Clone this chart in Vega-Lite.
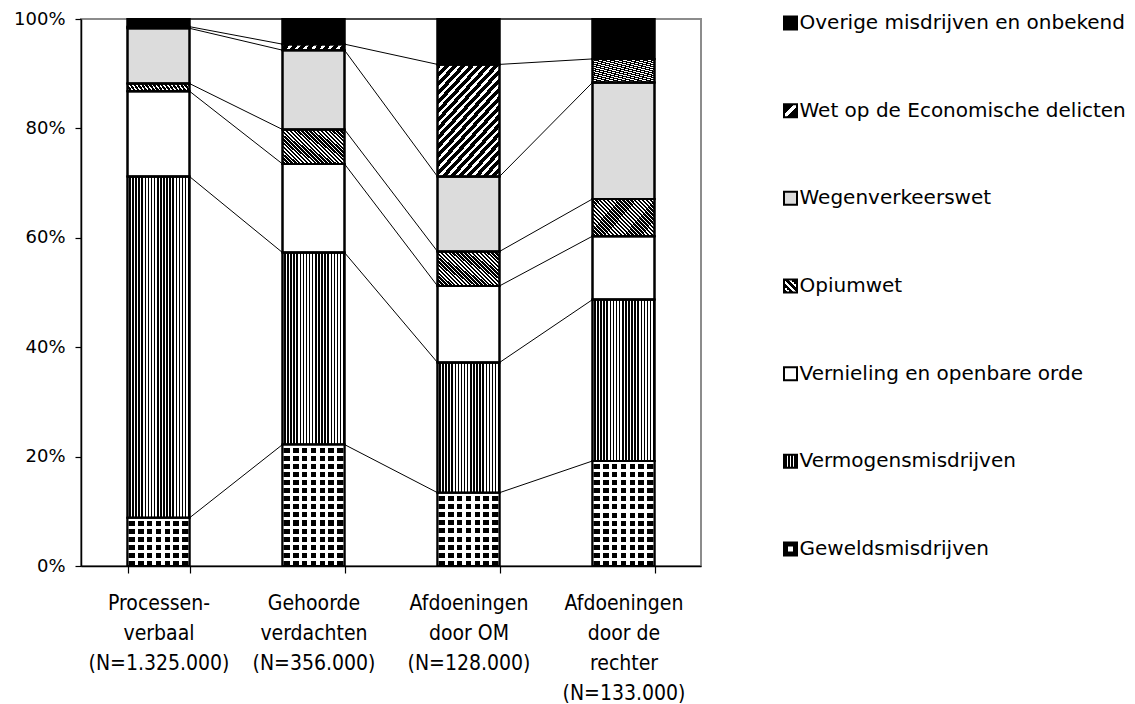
{
  "$schema": "https://vega.github.io/schema/vega-lite/v6.json",
  "padding": {"left": 12, "top": 9, "right": 2, "bottom": 2},
  "background": "white",
  "spacing": 78,
  "config": {
    "view": {"stroke": "#8c8c8c", "strokeWidth": 2},
    "axis": {"labelColor": "black", "domainColor": "black", "tickColor": "black", "domainWidth": 1.5, "tickWidth": 1.2, "grid": false, "title": null}
  },
  "data": {"values": [
    {"cat": "Processen-|verbaal|(N=1.325.000)", "type": "Geweldsmisdrijven", "pct": 8.8},
    {"cat": "Processen-|verbaal|(N=1.325.000)", "type": "Vermogensmisdrijven", "pct": 62.4},
    {"cat": "Processen-|verbaal|(N=1.325.000)", "type": "Vernieling en openbare orde", "pct": 15.6},
    {"cat": "Processen-|verbaal|(N=1.325.000)", "type": "Opiumwet", "pct": 1.4},
    {"cat": "Processen-|verbaal|(N=1.325.000)", "type": "Wegenverkeerswet", "pct": 10.1},
    {"cat": "Processen-|verbaal|(N=1.325.000)", "type": "Wet op de Economische delicten", "pct": 0.3},
    {"cat": "Processen-|verbaal|(N=1.325.000)", "type": "Overige misdrijven en onbekend", "pct": 1.4},
    {"cat": "Gehoorde|verdachten|(N=356.000)", "type": "Geweldsmisdrijven", "pct": 22.2},
    {"cat": "Gehoorde|verdachten|(N=356.000)", "type": "Vermogensmisdrijven", "pct": 35.1},
    {"cat": "Gehoorde|verdachten|(N=356.000)", "type": "Vernieling en openbare orde", "pct": 16.2},
    {"cat": "Gehoorde|verdachten|(N=356.000)", "type": "Opiumwet", "pct": 6.3},
    {"cat": "Gehoorde|verdachten|(N=356.000)", "type": "Wegenverkeerswet", "pct": 14.5},
    {"cat": "Gehoorde|verdachten|(N=356.000)", "type": "Wet op de Economische delicten", "pct": 1.1},
    {"cat": "Gehoorde|verdachten|(N=356.000)", "type": "Overige misdrijven en onbekend", "pct": 4.6},
    {"cat": "Afdoeningen|door OM|(N=128.000)", "type": "Geweldsmisdrijven", "pct": 13.4},
    {"cat": "Afdoeningen|door OM|(N=128.000)", "type": "Vermogensmisdrijven", "pct": 23.8},
    {"cat": "Afdoeningen|door OM|(N=128.000)", "type": "Vernieling en openbare orde", "pct": 14.0},
    {"cat": "Afdoeningen|door OM|(N=128.000)", "type": "Opiumwet", "pct": 6.3},
    {"cat": "Afdoeningen|door OM|(N=128.000)", "type": "Wegenverkeerswet", "pct": 13.7},
    {"cat": "Afdoeningen|door OM|(N=128.000)", "type": "Wet op de Economische delicten", "pct": 20.5},
    {"cat": "Afdoeningen|door OM|(N=128.000)", "type": "Overige misdrijven en onbekend", "pct": 8.3},
    {"cat": "Afdoeningen|door de|rechter|(N=133.000)", "type": "Geweldsmisdrijven", "pct": 19.2},
    {"cat": "Afdoeningen|door de|rechter|(N=133.000)", "type": "Vermogensmisdrijven", "pct": 29.5},
    {"cat": "Afdoeningen|door de|rechter|(N=133.000)", "type": "Vernieling en openbare orde", "pct": 11.6},
    {"cat": "Afdoeningen|door de|rechter|(N=133.000)", "type": "Opiumwet", "pct": 6.8},
    {"cat": "Afdoeningen|door de|rechter|(N=133.000)", "type": "Wegenverkeerswet", "pct": 21.3},
    {"cat": "Afdoeningen|door de|rechter|(N=133.000)", "type": "Wet op de Economische delicten", "pct": 4.3},
    {"cat": "Afdoeningen|door de|rechter|(N=133.000)", "type": "Overige misdrijven en onbekend", "pct": 7.3}
  ]},
  "hconcat": [
    {
      "width": 620,
      "height": 547,
      "transform": [
        {"calculate": "indexof(['Geweldsmisdrijven','Vermogensmisdrijven','Vernieling en openbare orde','Opiumwet','Wegenverkeerswet','Wet op de Economische delicten','Overige misdrijven en onbekend'], datum.type)", "as": "k"},
        {"calculate": "indexof(['Processen-|verbaal|(N=1.325.000)','Gehoorde|verdachten|(N=356.000)','Afdoeningen|door OM|(N=128.000)','Afdoeningen|door de|rechter|(N=133.000)'], datum.cat)", "as": "ci"},
        {"stack": "pct", "groupby": ["cat"], "sort": [{"field": "k", "order": "ascending"}], "as": ["y0", "y1"]}
      ],
      "encoding": {
        "x": {"field": "cat", "type": "nominal",
          "scale": {"domain": ["Processen-|verbaal|(N=1.325.000)", "Gehoorde|verdachten|(N=356.000)", "Afdoeningen|door OM|(N=128.000)", "Afdoeningen|door de|rechter|(N=133.000)"], "paddingInner": 0.6, "paddingOuter": 0.3},
          "axis": {"labelExpr": "split(datum.label, '|')", "labelAngle": 0, "tickBand": "extent", "tickSize": 7, "labelFont": "DejaVu Sans Condensed", "labelFontSize": 21, "labelLineHeight": 30, "labelPadding": 19, "labelBaseline": "top", "labelLimit": 0}},
        "y": {"field": "y1", "type": "quantitative",
          "scale": {"domain": [0, 100], "nice": false},
          "axis": {"values": [0, 20, 40, 60, 80, 100], "labelExpr": "datum.value + '%'", "tickSize": 6, "labelFont": "DejaVu Sans", "labelFontSize": 18, "labelPadding": 10}},
        "y2": {"field": "y0"}
      },
      "layer": [
        {
          "mark": {"type": "bar", "stroke": "black", "strokeWidth": 2},
          "encoding": {
            "color": {
              "condition": [
                {"test": "datum.type === 'Wet op de Economische delicten'", "value":
                  {"gradient": "linear", "x1": 0, "y1": 0, "x2": 0.7, "y2": 1.17, "stops": [
                    {"offset": 0, "color": "#000"}, {"offset": 0.03, "color": "#000"}, {"offset": 0.03, "color": "#fff"}, {"offset": 0.05, "color": "#fff"},
                    {"offset": 0.05, "color": "#000"}, {"offset": 0.08, "color": "#000"}, {"offset": 0.08, "color": "#fff"}, {"offset": 0.1, "color": "#fff"},
                    {"offset": 0.1, "color": "#000"}, {"offset": 0.13, "color": "#000"}, {"offset": 0.13, "color": "#fff"}, {"offset": 0.15, "color": "#fff"},
                    {"offset": 0.15, "color": "#000"}, {"offset": 0.18, "color": "#000"}, {"offset": 0.18, "color": "#fff"}, {"offset": 0.2, "color": "#fff"},
                    {"offset": 0.2, "color": "#000"}, {"offset": 0.23, "color": "#000"}, {"offset": 0.23, "color": "#fff"}, {"offset": 0.25, "color": "#fff"},
                    {"offset": 0.25, "color": "#000"}, {"offset": 0.28, "color": "#000"}, {"offset": 0.28, "color": "#fff"}, {"offset": 0.3, "color": "#fff"},
                    {"offset": 0.3, "color": "#000"}, {"offset": 0.33, "color": "#000"}, {"offset": 0.33, "color": "#fff"}, {"offset": 0.35, "color": "#fff"},
                    {"offset": 0.35, "color": "#000"}, {"offset": 0.38, "color": "#000"}, {"offset": 0.38, "color": "#fff"}, {"offset": 0.4, "color": "#fff"},
                    {"offset": 0.4, "color": "#000"}, {"offset": 0.43, "color": "#000"}, {"offset": 0.43, "color": "#fff"}, {"offset": 0.45, "color": "#fff"},
                    {"offset": 0.45, "color": "#000"}, {"offset": 0.48, "color": "#000"}, {"offset": 0.48, "color": "#fff"}, {"offset": 0.5, "color": "#fff"},
                    {"offset": 0.5, "color": "#000"}, {"offset": 0.53, "color": "#000"}, {"offset": 0.53, "color": "#fff"}, {"offset": 0.55, "color": "#fff"},
                    {"offset": 0.55, "color": "#000"}, {"offset": 0.58, "color": "#000"}, {"offset": 0.58, "color": "#fff"}, {"offset": 0.6, "color": "#fff"},
                    {"offset": 0.6, "color": "#000"}, {"offset": 0.63, "color": "#000"}, {"offset": 0.63, "color": "#fff"}, {"offset": 0.65, "color": "#fff"},
                    {"offset": 0.65, "color": "#000"}, {"offset": 0.68, "color": "#000"}, {"offset": 0.68, "color": "#fff"}, {"offset": 0.7, "color": "#fff"},
                    {"offset": 0.7, "color": "#000"}, {"offset": 0.73, "color": "#000"}, {"offset": 0.73, "color": "#fff"}, {"offset": 0.75, "color": "#fff"},
                    {"offset": 0.75, "color": "#000"}, {"offset": 0.78, "color": "#000"}, {"offset": 0.78, "color": "#fff"}, {"offset": 0.8, "color": "#fff"},
                    {"offset": 0.8, "color": "#000"}, {"offset": 0.83, "color": "#000"}, {"offset": 0.83, "color": "#fff"}, {"offset": 0.85, "color": "#fff"},
                    {"offset": 0.85, "color": "#000"}, {"offset": 0.88, "color": "#000"}, {"offset": 0.88, "color": "#fff"}, {"offset": 0.9, "color": "#fff"},
                    {"offset": 0.9, "color": "#000"}, {"offset": 0.93, "color": "#000"}, {"offset": 0.93, "color": "#fff"}, {"offset": 0.95, "color": "#fff"},
                    {"offset": 0.95, "color": "#000"}, {"offset": 0.98, "color": "#000"}, {"offset": 0.98, "color": "#fff"}, {"offset": 1, "color": "#fff"}
                  ]}},
                {"test": "datum.type === 'Opiumwet'", "value":
                  {"gradient": "linear", "x1": 0, "y1": 1, "x2": 1.185, "y2": 0.325, "stops": [
                    {"offset": 0, "color": "#fff"}, {"offset": 0.015, "color": "#fff"}, {"offset": 0.015, "color": "#000"}, {"offset": 0.04, "color": "#000"},
                    {"offset": 0.04, "color": "#fff"}, {"offset": 0.055, "color": "#fff"}, {"offset": 0.055, "color": "#000"}, {"offset": 0.08, "color": "#000"},
                    {"offset": 0.08, "color": "#fff"}, {"offset": 0.095, "color": "#fff"}, {"offset": 0.095, "color": "#000"}, {"offset": 0.12, "color": "#000"},
                    {"offset": 0.12, "color": "#fff"}, {"offset": 0.135, "color": "#fff"}, {"offset": 0.135, "color": "#000"}, {"offset": 0.16, "color": "#000"},
                    {"offset": 0.16, "color": "#fff"}, {"offset": 0.175, "color": "#fff"}, {"offset": 0.175, "color": "#000"}, {"offset": 0.2, "color": "#000"},
                    {"offset": 0.2, "color": "#fff"}, {"offset": 0.215, "color": "#fff"}, {"offset": 0.215, "color": "#000"}, {"offset": 0.24, "color": "#000"},
                    {"offset": 0.24, "color": "#fff"}, {"offset": 0.255, "color": "#fff"}, {"offset": 0.255, "color": "#000"}, {"offset": 0.28, "color": "#000"},
                    {"offset": 0.28, "color": "#fff"}, {"offset": 0.295, "color": "#fff"}, {"offset": 0.295, "color": "#000"}, {"offset": 0.32, "color": "#000"},
                    {"offset": 0.32, "color": "#fff"}, {"offset": 0.335, "color": "#fff"}, {"offset": 0.335, "color": "#000"}, {"offset": 0.36, "color": "#000"},
                    {"offset": 0.36, "color": "#fff"}, {"offset": 0.375, "color": "#fff"}, {"offset": 0.375, "color": "#000"}, {"offset": 0.4, "color": "#000"},
                    {"offset": 0.4, "color": "#fff"}, {"offset": 0.415, "color": "#fff"}, {"offset": 0.415, "color": "#000"}, {"offset": 0.44, "color": "#000"},
                    {"offset": 0.44, "color": "#fff"}, {"offset": 0.455, "color": "#fff"}, {"offset": 0.455, "color": "#000"}, {"offset": 0.48, "color": "#000"},
                    {"offset": 0.48, "color": "#fff"}, {"offset": 0.495, "color": "#fff"}, {"offset": 0.495, "color": "#000"}, {"offset": 0.52, "color": "#000"},
                    {"offset": 0.52, "color": "#fff"}, {"offset": 0.535, "color": "#fff"}, {"offset": 0.535, "color": "#000"}, {"offset": 0.56, "color": "#000"},
                    {"offset": 0.56, "color": "#fff"}, {"offset": 0.575, "color": "#fff"}, {"offset": 0.575, "color": "#000"}, {"offset": 0.6, "color": "#000"},
                    {"offset": 0.6, "color": "#fff"}, {"offset": 0.615, "color": "#fff"}, {"offset": 0.615, "color": "#000"}, {"offset": 0.64, "color": "#000"},
                    {"offset": 0.64, "color": "#fff"}, {"offset": 0.655, "color": "#fff"}, {"offset": 0.655, "color": "#000"}, {"offset": 0.68, "color": "#000"},
                    {"offset": 0.68, "color": "#fff"}, {"offset": 0.695, "color": "#fff"}, {"offset": 0.695, "color": "#000"}, {"offset": 0.72, "color": "#000"},
                    {"offset": 0.72, "color": "#fff"}, {"offset": 0.735, "color": "#fff"}, {"offset": 0.735, "color": "#000"}, {"offset": 0.76, "color": "#000"},
                    {"offset": 0.76, "color": "#fff"}, {"offset": 0.775, "color": "#fff"}, {"offset": 0.775, "color": "#000"}, {"offset": 0.8, "color": "#000"},
                    {"offset": 0.8, "color": "#fff"}, {"offset": 0.815, "color": "#fff"}, {"offset": 0.815, "color": "#000"}, {"offset": 0.84, "color": "#000"},
                    {"offset": 0.84, "color": "#fff"}, {"offset": 0.855, "color": "#fff"}, {"offset": 0.855, "color": "#000"}, {"offset": 0.88, "color": "#000"},
                    {"offset": 0.88, "color": "#fff"}, {"offset": 0.895, "color": "#fff"}, {"offset": 0.895, "color": "#000"}, {"offset": 0.92, "color": "#000"},
                    {"offset": 0.92, "color": "#fff"}, {"offset": 0.935, "color": "#fff"}, {"offset": 0.935, "color": "#000"}, {"offset": 0.96, "color": "#000"},
                    {"offset": 0.96, "color": "#fff"}, {"offset": 0.975, "color": "#fff"}, {"offset": 0.975, "color": "#000"}, {"offset": 1, "color": "#000"}
                  ]}},
                {"test": "datum.type === 'Vermogensmisdrijven'", "value":
                  {"gradient": "linear", "x1": 0, "y1": 0, "x2": 1, "y2": 0, "stops": [
                    {"offset": 0, "color": "#fff"}, {"offset": 0.025, "color": "#fff"}, {"offset": 0.025, "color": "#000"}, {"offset": 0.05, "color": "#000"},
                    {"offset": 0.05, "color": "#fff"}, {"offset": 0.075, "color": "#fff"}, {"offset": 0.075, "color": "#000"}, {"offset": 0.1, "color": "#000"},
                    {"offset": 0.1, "color": "#fff"}, {"offset": 0.125, "color": "#fff"}, {"offset": 0.125, "color": "#000"}, {"offset": 0.15, "color": "#000"},
                    {"offset": 0.15, "color": "#fff"}, {"offset": 0.175, "color": "#fff"}, {"offset": 0.175, "color": "#000"}, {"offset": 0.2, "color": "#000"},
                    {"offset": 0.2, "color": "#fff"}, {"offset": 0.225, "color": "#fff"}, {"offset": 0.225, "color": "#000"}, {"offset": 0.25, "color": "#000"},
                    {"offset": 0.25, "color": "#fff"}, {"offset": 0.275, "color": "#fff"}, {"offset": 0.275, "color": "#000"}, {"offset": 0.3, "color": "#000"},
                    {"offset": 0.3, "color": "#fff"}, {"offset": 0.325, "color": "#fff"}, {"offset": 0.325, "color": "#000"}, {"offset": 0.35, "color": "#000"},
                    {"offset": 0.35, "color": "#fff"}, {"offset": 0.375, "color": "#fff"}, {"offset": 0.375, "color": "#000"}, {"offset": 0.4, "color": "#000"},
                    {"offset": 0.4, "color": "#fff"}, {"offset": 0.425, "color": "#fff"}, {"offset": 0.425, "color": "#000"}, {"offset": 0.45, "color": "#000"},
                    {"offset": 0.45, "color": "#fff"}, {"offset": 0.475, "color": "#fff"}, {"offset": 0.475, "color": "#000"}, {"offset": 0.5, "color": "#000"},
                    {"offset": 0.5, "color": "#fff"}, {"offset": 0.525, "color": "#fff"}, {"offset": 0.525, "color": "#000"}, {"offset": 0.55, "color": "#000"},
                    {"offset": 0.55, "color": "#fff"}, {"offset": 0.575, "color": "#fff"}, {"offset": 0.575, "color": "#000"}, {"offset": 0.6, "color": "#000"},
                    {"offset": 0.6, "color": "#fff"}, {"offset": 0.625, "color": "#fff"}, {"offset": 0.625, "color": "#000"}, {"offset": 0.65, "color": "#000"},
                    {"offset": 0.65, "color": "#fff"}, {"offset": 0.675, "color": "#fff"}, {"offset": 0.675, "color": "#000"}, {"offset": 0.7, "color": "#000"},
                    {"offset": 0.7, "color": "#fff"}, {"offset": 0.725, "color": "#fff"}, {"offset": 0.725, "color": "#000"}, {"offset": 0.75, "color": "#000"},
                    {"offset": 0.75, "color": "#fff"}, {"offset": 0.775, "color": "#fff"}, {"offset": 0.775, "color": "#000"}, {"offset": 0.8, "color": "#000"},
                    {"offset": 0.8, "color": "#fff"}, {"offset": 0.825, "color": "#fff"}, {"offset": 0.825, "color": "#000"}, {"offset": 0.85, "color": "#000"},
                    {"offset": 0.85, "color": "#fff"}, {"offset": 0.875, "color": "#fff"}, {"offset": 0.875, "color": "#000"}, {"offset": 0.9, "color": "#000"},
                    {"offset": 0.9, "color": "#fff"}, {"offset": 0.925, "color": "#fff"}, {"offset": 0.925, "color": "#000"}, {"offset": 0.95, "color": "#000"},
                    {"offset": 0.95, "color": "#fff"}, {"offset": 0.975, "color": "#fff"}, {"offset": 0.975, "color": "#000"}, {"offset": 1, "color": "#000"}
                  ]}},
                {"test": "datum.type === 'Geweldsmisdrijven'", "value":
                  {"gradient": "linear", "x1": 0, "y1": 0, "x2": 1, "y2": 0, "stops": [
                    {"offset": 0, "color": "#fff"}, {"offset": 0.0271, "color": "#fff"}, {"offset": 0.0271, "color": "#000"}, {"offset": 0.1157, "color": "#000"},
                    {"offset": 0.1157, "color": "#fff"}, {"offset": 0.17, "color": "#fff"}, {"offset": 0.17, "color": "#000"}, {"offset": 0.2586, "color": "#000"},
                    {"offset": 0.2586, "color": "#fff"}, {"offset": 0.3128, "color": "#fff"}, {"offset": 0.3128, "color": "#000"}, {"offset": 0.4014, "color": "#000"},
                    {"offset": 0.4014, "color": "#fff"}, {"offset": 0.4557, "color": "#fff"}, {"offset": 0.4557, "color": "#000"}, {"offset": 0.5443, "color": "#000"},
                    {"offset": 0.5443, "color": "#fff"}, {"offset": 0.5986, "color": "#fff"}, {"offset": 0.5986, "color": "#000"}, {"offset": 0.6872, "color": "#000"},
                    {"offset": 0.6872, "color": "#fff"}, {"offset": 0.7414, "color": "#fff"}, {"offset": 0.7414, "color": "#000"}, {"offset": 0.83, "color": "#000"},
                    {"offset": 0.83, "color": "#fff"}, {"offset": 0.8843, "color": "#fff"}, {"offset": 0.8843, "color": "#000"}, {"offset": 0.9729, "color": "#000"},
                    {"offset": 0.9729, "color": "#fff"}, {"offset": 1, "color": "#fff"}
                  ]}}
              ],
              "field": "type", "type": "nominal",
              "scale": {
                "domain": ["Overige misdrijven en onbekend", "Wet op de Economische delicten", "Wegenverkeerswet", "Opiumwet", "Vernieling en openbare orde", "Vermogensmisdrijven", "Geweldsmisdrijven"],
                "range": ["#000000", "#000000", "#dcdcdc", "#444444", "#ffffff", "#555555", "#333333"]
              },
              "legend": null
            }
          }
        },
        {
          "transform": [{"filter": "datum.type === 'Geweldsmisdrijven'"}],
          "mark": {"type": "bar"},
          "encoding": {
            "color": {
              "condition": [
                {"test": "datum.ci === 0", "value":
                  {"gradient": "linear", "x1": 0, "y1": 0, "x2": 0, "y2": 1, "stops": [
                    {"offset": 0, "color": "#fff"}, {"offset": 0.0633, "color": "#fff"}, {"offset": 0.0633, "color": "rgba(255,255,255,0)"}, {"offset": 0.1667, "color": "rgba(255,255,255,0)"},
                    {"offset": 0.1667, "color": "#fff"}, {"offset": 0.23, "color": "#fff"}, {"offset": 0.23, "color": "rgba(255,255,255,0)"}, {"offset": 0.3333, "color": "rgba(255,255,255,0)"},
                    {"offset": 0.3333, "color": "#fff"}, {"offset": 0.3967, "color": "#fff"}, {"offset": 0.3967, "color": "rgba(255,255,255,0)"}, {"offset": 0.5, "color": "rgba(255,255,255,0)"},
                    {"offset": 0.5, "color": "#fff"}, {"offset": 0.5633, "color": "#fff"}, {"offset": 0.5633, "color": "rgba(255,255,255,0)"}, {"offset": 0.6667, "color": "rgba(255,255,255,0)"},
                    {"offset": 0.6667, "color": "#fff"}, {"offset": 0.73, "color": "#fff"}, {"offset": 0.73, "color": "rgba(255,255,255,0)"}, {"offset": 0.8333, "color": "rgba(255,255,255,0)"},
                    {"offset": 0.8333, "color": "#fff"}, {"offset": 0.8967, "color": "#fff"}, {"offset": 0.8967, "color": "rgba(255,255,255,0)"}, {"offset": 1, "color": "rgba(255,255,255,0)"}
                  ]}},
                {"test": "datum.ci === 1", "value":
                  {"gradient": "linear", "x1": 0, "y1": 0, "x2": 0, "y2": 1, "stops": [
                    {"offset": 0, "color": "#fff"}, {"offset": 0.0253, "color": "#fff"}, {"offset": 0.0253, "color": "rgba(255,255,255,0)"}, {"offset": 0.0667, "color": "rgba(255,255,255,0)"},
                    {"offset": 0.0667, "color": "#fff"}, {"offset": 0.092, "color": "#fff"}, {"offset": 0.092, "color": "rgba(255,255,255,0)"}, {"offset": 0.1333, "color": "rgba(255,255,255,0)"},
                    {"offset": 0.1333, "color": "#fff"}, {"offset": 0.1587, "color": "#fff"}, {"offset": 0.1587, "color": "rgba(255,255,255,0)"}, {"offset": 0.2, "color": "rgba(255,255,255,0)"},
                    {"offset": 0.2, "color": "#fff"}, {"offset": 0.2253, "color": "#fff"}, {"offset": 0.2253, "color": "rgba(255,255,255,0)"}, {"offset": 0.2667, "color": "rgba(255,255,255,0)"},
                    {"offset": 0.2667, "color": "#fff"}, {"offset": 0.292, "color": "#fff"}, {"offset": 0.292, "color": "rgba(255,255,255,0)"}, {"offset": 0.3333, "color": "rgba(255,255,255,0)"},
                    {"offset": 0.3333, "color": "#fff"}, {"offset": 0.3587, "color": "#fff"}, {"offset": 0.3587, "color": "rgba(255,255,255,0)"}, {"offset": 0.4, "color": "rgba(255,255,255,0)"},
                    {"offset": 0.4, "color": "#fff"}, {"offset": 0.4253, "color": "#fff"}, {"offset": 0.4253, "color": "rgba(255,255,255,0)"}, {"offset": 0.4667, "color": "rgba(255,255,255,0)"},
                    {"offset": 0.4667, "color": "#fff"}, {"offset": 0.492, "color": "#fff"}, {"offset": 0.492, "color": "rgba(255,255,255,0)"}, {"offset": 0.5333, "color": "rgba(255,255,255,0)"},
                    {"offset": 0.5333, "color": "#fff"}, {"offset": 0.5587, "color": "#fff"}, {"offset": 0.5587, "color": "rgba(255,255,255,0)"}, {"offset": 0.6, "color": "rgba(255,255,255,0)"},
                    {"offset": 0.6, "color": "#fff"}, {"offset": 0.6253, "color": "#fff"}, {"offset": 0.6253, "color": "rgba(255,255,255,0)"}, {"offset": 0.6667, "color": "rgba(255,255,255,0)"},
                    {"offset": 0.6667, "color": "#fff"}, {"offset": 0.692, "color": "#fff"}, {"offset": 0.692, "color": "rgba(255,255,255,0)"}, {"offset": 0.7333, "color": "rgba(255,255,255,0)"},
                    {"offset": 0.7333, "color": "#fff"}, {"offset": 0.7587, "color": "#fff"}, {"offset": 0.7587, "color": "rgba(255,255,255,0)"}, {"offset": 0.8, "color": "rgba(255,255,255,0)"},
                    {"offset": 0.8, "color": "#fff"}, {"offset": 0.8253, "color": "#fff"}, {"offset": 0.8253, "color": "rgba(255,255,255,0)"}, {"offset": 0.8667, "color": "rgba(255,255,255,0)"},
                    {"offset": 0.8667, "color": "#fff"}, {"offset": 0.892, "color": "#fff"}, {"offset": 0.892, "color": "rgba(255,255,255,0)"}, {"offset": 0.9333, "color": "rgba(255,255,255,0)"},
                    {"offset": 0.9333, "color": "#fff"}, {"offset": 0.9587, "color": "#fff"}, {"offset": 0.9587, "color": "rgba(255,255,255,0)"}, {"offset": 1, "color": "rgba(255,255,255,0)"}
                  ]}},
                {"test": "datum.ci === 2", "value":
                  {"gradient": "linear", "x1": 0, "y1": 0, "x2": 0, "y2": 1, "stops": [
                    {"offset": 0, "color": "#fff"}, {"offset": 0.0422, "color": "#fff"}, {"offset": 0.0422, "color": "rgba(255,255,255,0)"}, {"offset": 0.1111, "color": "rgba(255,255,255,0)"},
                    {"offset": 0.1111, "color": "#fff"}, {"offset": 0.1533, "color": "#fff"}, {"offset": 0.1533, "color": "rgba(255,255,255,0)"}, {"offset": 0.2222, "color": "rgba(255,255,255,0)"},
                    {"offset": 0.2222, "color": "#fff"}, {"offset": 0.2644, "color": "#fff"}, {"offset": 0.2644, "color": "rgba(255,255,255,0)"}, {"offset": 0.3333, "color": "rgba(255,255,255,0)"},
                    {"offset": 0.3333, "color": "#fff"}, {"offset": 0.3756, "color": "#fff"}, {"offset": 0.3756, "color": "rgba(255,255,255,0)"}, {"offset": 0.4444, "color": "rgba(255,255,255,0)"},
                    {"offset": 0.4444, "color": "#fff"}, {"offset": 0.4867, "color": "#fff"}, {"offset": 0.4867, "color": "rgba(255,255,255,0)"}, {"offset": 0.5556, "color": "rgba(255,255,255,0)"},
                    {"offset": 0.5556, "color": "#fff"}, {"offset": 0.5978, "color": "#fff"}, {"offset": 0.5978, "color": "rgba(255,255,255,0)"}, {"offset": 0.6667, "color": "rgba(255,255,255,0)"},
                    {"offset": 0.6667, "color": "#fff"}, {"offset": 0.7089, "color": "#fff"}, {"offset": 0.7089, "color": "rgba(255,255,255,0)"}, {"offset": 0.7778, "color": "rgba(255,255,255,0)"},
                    {"offset": 0.7778, "color": "#fff"}, {"offset": 0.82, "color": "#fff"}, {"offset": 0.82, "color": "rgba(255,255,255,0)"}, {"offset": 0.8889, "color": "rgba(255,255,255,0)"},
                    {"offset": 0.8889, "color": "#fff"}, {"offset": 0.9311, "color": "#fff"}, {"offset": 0.9311, "color": "rgba(255,255,255,0)"}, {"offset": 1, "color": "rgba(255,255,255,0)"}
                  ]}}
              ],
              "value": {"gradient": "linear", "x1": 0, "y1": 0, "x2": 0, "y2": 1, "stops": [
                    {"offset": 0, "color": "#fff"}, {"offset": 0.0292, "color": "#fff"}, {"offset": 0.0292, "color": "rgba(255,255,255,0)"}, {"offset": 0.0769, "color": "rgba(255,255,255,0)"},
                    {"offset": 0.0769, "color": "#fff"}, {"offset": 0.1062, "color": "#fff"}, {"offset": 0.1062, "color": "rgba(255,255,255,0)"}, {"offset": 0.1538, "color": "rgba(255,255,255,0)"},
                    {"offset": 0.1538, "color": "#fff"}, {"offset": 0.1831, "color": "#fff"}, {"offset": 0.1831, "color": "rgba(255,255,255,0)"}, {"offset": 0.2308, "color": "rgba(255,255,255,0)"},
                    {"offset": 0.2308, "color": "#fff"}, {"offset": 0.26, "color": "#fff"}, {"offset": 0.26, "color": "rgba(255,255,255,0)"}, {"offset": 0.3077, "color": "rgba(255,255,255,0)"},
                    {"offset": 0.3077, "color": "#fff"}, {"offset": 0.3369, "color": "#fff"}, {"offset": 0.3369, "color": "rgba(255,255,255,0)"}, {"offset": 0.3846, "color": "rgba(255,255,255,0)"},
                    {"offset": 0.3846, "color": "#fff"}, {"offset": 0.4138, "color": "#fff"}, {"offset": 0.4138, "color": "rgba(255,255,255,0)"}, {"offset": 0.4615, "color": "rgba(255,255,255,0)"},
                    {"offset": 0.4615, "color": "#fff"}, {"offset": 0.4908, "color": "#fff"}, {"offset": 0.4908, "color": "rgba(255,255,255,0)"}, {"offset": 0.5385, "color": "rgba(255,255,255,0)"},
                    {"offset": 0.5385, "color": "#fff"}, {"offset": 0.5677, "color": "#fff"}, {"offset": 0.5677, "color": "rgba(255,255,255,0)"}, {"offset": 0.6154, "color": "rgba(255,255,255,0)"},
                    {"offset": 0.6154, "color": "#fff"}, {"offset": 0.6446, "color": "#fff"}, {"offset": 0.6446, "color": "rgba(255,255,255,0)"}, {"offset": 0.6923, "color": "rgba(255,255,255,0)"},
                    {"offset": 0.6923, "color": "#fff"}, {"offset": 0.7215, "color": "#fff"}, {"offset": 0.7215, "color": "rgba(255,255,255,0)"}, {"offset": 0.7692, "color": "rgba(255,255,255,0)"},
                    {"offset": 0.7692, "color": "#fff"}, {"offset": 0.7985, "color": "#fff"}, {"offset": 0.7985, "color": "rgba(255,255,255,0)"}, {"offset": 0.8462, "color": "rgba(255,255,255,0)"},
                    {"offset": 0.8462, "color": "#fff"}, {"offset": 0.8754, "color": "#fff"}, {"offset": 0.8754, "color": "rgba(255,255,255,0)"}, {"offset": 0.9231, "color": "rgba(255,255,255,0)"},
                    {"offset": 0.9231, "color": "#fff"}, {"offset": 0.9523, "color": "#fff"}, {"offset": 0.9523, "color": "rgba(255,255,255,0)"}, {"offset": 1, "color": "rgba(255,255,255,0)"}
                  ]}
            }
          }
        },
        {
          "mark": {"type": "bar", "filled": false, "stroke": "black", "strokeWidth": 2}
        },
        {
          "transform": [
            {"window": [{"op": "lead", "field": "y1", "as": "ny"}, {"op": "lead", "field": "cat", "as": "ncat"}], "groupby": ["type"], "sort": [{"field": "ci", "order": "ascending"}]},
            {"filter": "datum.ncat != null"}
          ],
          "mark": {"type": "rule", "color": "black", "strokeWidth": 1, "xOffset": 31, "x2Offset": -31},
          "encoding": {
            "x2": {"field": "ncat"},
            "y2": {"field": "ny"}
          }
        }
      ]
    },
    {
      "width": 340,
      "height": 526,
      "view": {"stroke": null},
      "transform": [{"filter": "datum.cat === 'Processen-|verbaal|(N=1.325.000)'"}],
      "encoding": {
        "y": {"field": "type", "type": "nominal", "axis": null,
          "scale": {"type": "point", "padding": 0, "domain": ["Overige misdrijven en onbekend", "Wet op de Economische delicten", "Wegenverkeerswet", "Opiumwet", "Vernieling en openbare orde", "Vermogensmisdrijven", "Geweldsmisdrijven"]}}
      },
      "layer": [
        {
          "mark": {"type": "square", "size": 169, "stroke": "black", "strokeWidth": 2, "opacity": 1, "filled": true, "x": 6.5, "yOffset": 4},
          "encoding": {
            "color": {
              "condition": [
                {"test": "datum.type === 'Overige misdrijven en onbekend'", "value": "#000000"},
                {"test": "datum.type === 'Wet op de Economische delicten'", "value": {"gradient": "linear", "x1": 0, "y1": 0, "x2": 1, "y2": 1, "stops": [{"offset": 0, "color": "#000"}, {"offset": 0.4, "color": "#000"}, {"offset": 0.4, "color": "#fff"}, {"offset": 0.6, "color": "#fff"}, {"offset": 0.6, "color": "#000"}, {"offset": 1, "color": "#000"}]}},
                {"test": "datum.type === 'Opiumwet'", "value": {"gradient": "linear", "x1": 0, "y1": 1, "x2": 1, "y2": 0, "stops": [{"offset": 0, "color": "#000"}, {"offset": 0.15, "color": "#000"}, {"offset": 0.15, "color": "#fff"}, {"offset": 0.25, "color": "#fff"}, {"offset": 0.25, "color": "#000"}, {"offset": 0.4, "color": "#000"}, {"offset": 0.4, "color": "#fff"}, {"offset": 0.5, "color": "#fff"}, {"offset": 0.5, "color": "#000"}, {"offset": 0.65, "color": "#000"}, {"offset": 0.65, "color": "#fff"}, {"offset": 0.75, "color": "#fff"}, {"offset": 0.75, "color": "#000"}, {"offset": 1, "color": "#000"}]}},
                {"test": "datum.type === 'Vernieling en openbare orde'", "value": "#ffffff"},
                {"test": "datum.type === 'Vermogensmisdrijven'", "value": {"gradient": "linear", "x1": 0, "y1": 0, "x2": 1, "y2": 0, "stops": [{"offset": 0, "color": "#000"}, {"offset": 0.2, "color": "#000"}, {"offset": 0.2, "color": "#fff"}, {"offset": 0.32, "color": "#fff"}, {"offset": 0.32, "color": "#000"}, {"offset": 0.44, "color": "#000"}, {"offset": 0.44, "color": "#fff"}, {"offset": 0.56, "color": "#fff"}, {"offset": 0.56, "color": "#000"}, {"offset": 0.68, "color": "#000"}, {"offset": 0.68, "color": "#fff"}, {"offset": 0.8, "color": "#fff"}, {"offset": 0.8, "color": "#000"}, {"offset": 1, "color": "#000"}]}},
                {"test": "datum.type === 'Geweldsmisdrijven'", "value": {"gradient": "radial", "x1": 0.5, "y1": 0.5, "r1": 0, "x2": 0.5, "y2": 0.5, "r2": 0.5, "stops": [{"offset": 0, "color": "#fff"}, {"offset": 0.45, "color": "#fff"}, {"offset": 0.45, "color": "#000"}, {"offset": 1, "color": "#000"}]}}
              ],
              "value": "#dcdcdc"
            }
          }
        },
        {
          "mark": {"type": "text", "x": 15.5, "yOffset": 4, "align": "left", "baseline": "middle", "font": "DejaVu Sans", "fontSize": 20, "color": "black"},
          "encoding": {"text": {"field": "type"}}
        }
      ]
    }
  ]
}
